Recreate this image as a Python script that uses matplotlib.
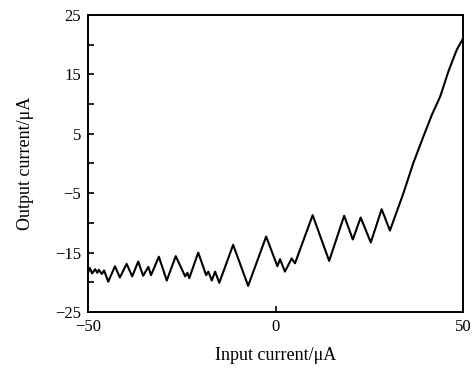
import matplotlib.pyplot as plt
import numpy as np

plt.rcParams['font.family'] = ['Liberation Serif', 'DejaVu Serif']

# input current (uA) and output current (uA)
x_in = [-50.0, -49.5, -48.9, -48.1, -47.5, -47.1, -46.3, -45.7, -44.6, -42.8,
        -41.5, -39.7, -38.2, -36.6, -35.3, -33.9, -33.2, -31.1, -29.0, -26.6,
        -24.1, -23.5, -23.0, -20.6, -18.5, -17.9, -17.0, -16.1, -15.0, -11.3,
        -7.3, -2.5, 0.5, 1.2, 2.5, 4.3, 5.2, 9.9, 14.3, 18.3,
        20.6, 22.7, 25.4, 28.3, 30.5, 34.1, 36.7, 39.4, 41.7, 43.9,
        46.1, 48.3, 49.9]
y_out = [-18.4, -17.6, -18.5, -17.8, -18.4, -17.9, -18.6, -18.0, -19.9, -17.3,
         -19.2, -16.9, -19.0, -16.5, -18.9, -17.4, -18.8, -15.7, -19.7, -15.6,
         -19.0, -18.4, -19.3, -15.0, -18.8, -18.2, -19.7, -18.2, -20.1, -13.7,
         -20.6, -12.3, -17.3, -16.1, -18.2, -16.0, -16.8, -8.7, -16.4, -8.8,
         -12.8, -9.1, -13.3, -7.7, -11.3, -5.0, 0.0, 4.5, 8.2, 11.25,
         15.5, 19.1, 20.9]

x_ticks = [-50, 0, 50]
y_ticks = [-25, -15, -5, 5, 15, 25]

fig = plt.figure(figsize=(4.73, 3.71), dpi=100)
ax = fig.add_axes([0.186, 0.159, 0.793, 0.801])

ax.plot(x_in, y_out, color='black', linewidth=1.5)

ax.set_xlim(-50, 50)
ax.set_ylim(-25, 25)
ax.set_xticks(x_ticks)
ax.set_yticks(y_ticks)
ax.set_yticks(np.arange(-20, 25, 10), minor=True)
ax.tick_params(direction='in', length=4, width=1.2, labelsize=12, pad=5)
ax.tick_params(which='minor', direction='in', length=4, width=1.2)
for s in ax.spines.values():
    s.set_linewidth(1.4)

ax.set_xlabel('Input current/\u03bcA', fontsize=13, labelpad=9)
ax.set_ylabel('Output current/\u03bcA', fontsize=13, labelpad=15)

fig.savefig('out.png', dpi=100)
